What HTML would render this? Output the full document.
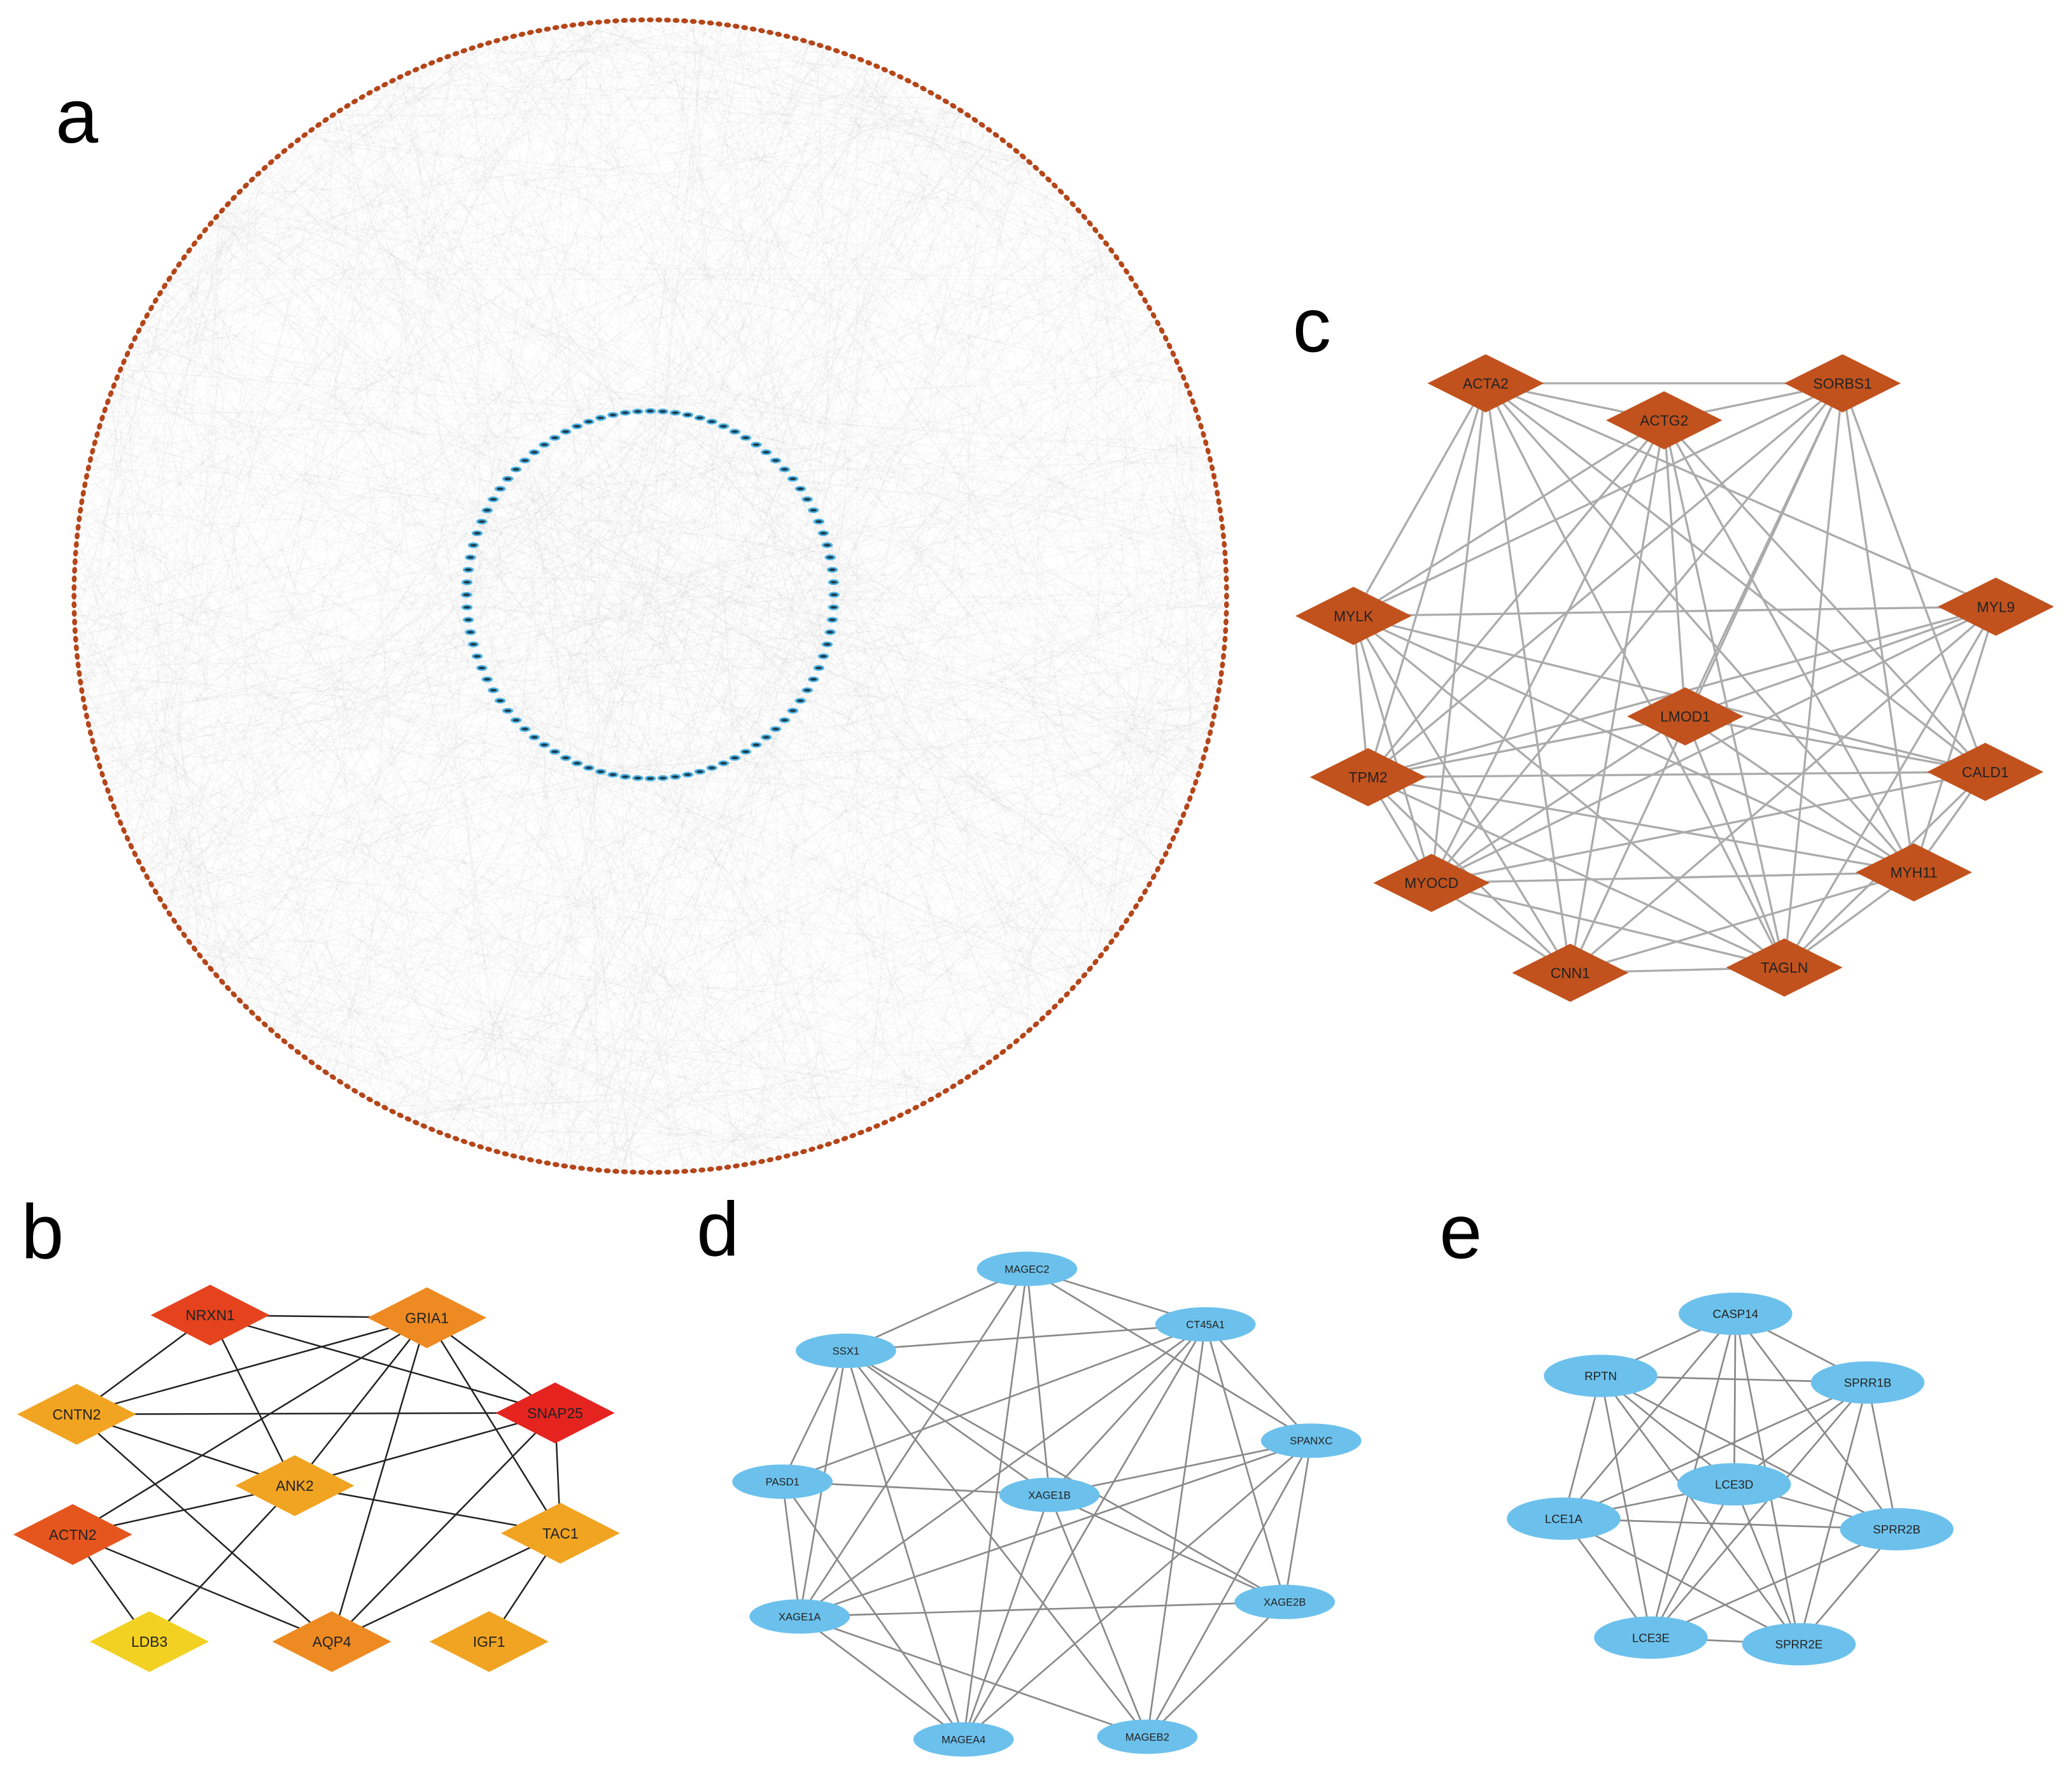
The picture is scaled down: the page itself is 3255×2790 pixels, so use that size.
<!DOCTYPE html>
<html><head><meta charset="utf-8"><style>html,body{margin:0;padding:0;background:#fff}svg{display:block}</style></head>
<body>
<svg id="s" xmlns="http://www.w3.org/2000/svg" width="3255" height="2790" viewBox="0 0 1567.6 1343.7" preserveAspectRatio="none" font-family="Liberation Sans, sans-serif">
<rect width="1568" height="1344" fill="#fff"/>
<g id="aEdges"></g>
<g id="aDots"></g>
<g id="cEdges" stroke="#ababab" stroke-width="1.6"></g>
<g id="bEdges" stroke="#222" stroke-width="1.2"></g>
<g id="dEdges" stroke="#8a8a8a" stroke-width="1.3"></g>
<g id="eEdges" stroke="#8a8a8a" stroke-width="1.3"></g>
<g id="nodes"></g>
<g font-size="58" fill="#000">
<text x="42" y="108">a</text>
<text x="16" y="952">b</text>
<text x="978" y="266">c</text>
<text x="527" y="950">d</text>
<text x="1089" y="952">e</text>
</g>
</svg>
<script>
var NS="http://www.w3.org/2000/svg";
function el(p,t,a,txt){var e=document.createElementNS(NS,t);for(var k in a)e.setAttribute(k,a[k]);if(txt)e.textContent=txt;p.appendChild(e);return e;}
var g=function(id){return document.getElementById(id);};
var seed=7;function rnd(){seed=(seed*16807)%2147483647;return seed/2147483647;}
var cx=492,cy=451,R=436,r=139;
var ae=g("aEdges");
for(var i=0;i<1400;i++){var t1=rnd()*6.283,t2,inner=rnd()<0.3;
 var x1=cx+R*Math.cos(t1),y1=cy+R*Math.sin(t1);var x2,y2;
 if(inner){t2=rnd()*6.283;x2=cx+r*Math.cos(t2);y2=cy+r*Math.sin(t2);}else{t2=t1+(0.6+rnd()*2.6)*(rnd()<.5?1:-1);x2=cx+R*Math.cos(t2);y2=cy+R*Math.sin(t2);}
 el(ae,"line",{x1:x1,y1:y1,x2:x2,y2:y2,stroke:"#999","stroke-opacity":0.07,"stroke-width":0.6});}
var ad=g("aDots");
for(var i=0;i<420;i++){var t=i/420*6.283;el(ad,"ellipse",{cx:cx+R*Math.cos(t),cy:cy+R*Math.sin(t),rx:2.6,ry:1.9,fill:"#B4461A",transform:"rotate("+(t*57.3+90)+" "+(cx+R*Math.cos(t))+" "+(cy+R*Math.sin(t))+")"});}
for(var i=0;i<92;i++){var t=i/92*6.283;var x=cx+r*Math.cos(t),y=cy-1+r*Math.sin(t);el(ad,"ellipse",{cx:x,cy:y,rx:4.2,ry:2.2,fill:"#4FB3E3"});el(ad,"ellipse",{cx:x,cy:y,rx:2.6,ry:1,fill:"#1d3a4a"});}
var nodes=g("nodes");
function diamond(x,y,w,h,fill,label,fs){el(nodes,"polygon",{points:(x-w/2)+","+y+" "+x+","+(y-h/2)+" "+(x+w/2)+","+y+" "+x+","+(y+h/2),fill:fill});el(nodes,"text",{x:x,y:y+fs*0.36,"text-anchor":"middle","font-size":fs,fill:"#222"},label);}
function ell(x,y,rx,ry,label,fs){el(nodes,"ellipse",{cx:x,cy:y,rx:rx,ry:ry,fill:"#6CC1EC"});el(nodes,"text",{x:x,y:y+fs*0.36,"text-anchor":"middle","font-size":fs,fill:"#222"},label);}
function edges(id,N,list){var p=g(id);list.forEach(function(e){var a=N[e[0]],b=N[e[1]];el(p,"line",{x1:a[0],y1:a[1],x2:b[0],y2:b[1]});});}
function all(N){var k=Object.keys(N),L=[];for(var i=0;i<k.length;i++)for(var j=i+1;j<k.length;j++)L.push([k[i],k[j]]);return L;}
var C={ACTA2:[1124,290],SORBS1:[1394,290],ACTG2:[1259,318],MYLK:[1024,466],MYL9:[1510,459],LMOD1:[1275,542],TPM2:[1035,588],CALD1:[1502,584],MYOCD:[1083,668],MYH11:[1448,660],CNN1:[1188,736],TAGLN:[1350,732]};
var cl=all(C).filter(function(e,i){return i%9!=4;});
edges("cEdges",C,cl);
for(var k in C)diamond(C[k][0],C[k][1],88,44,"#C1521E",k,11);
var B={NRXN1:[159,995,"#E5421E"],GRIA1:[323,997,"#EE8A22"],CNTN2:[58,1070,"#F0A422"],SNAP25:[420,1069,"#E52420"],ANK2:[223,1124,"#F0A422"],ACTN2:[55,1161,"#E5561E"],TAC1:[424,1160,"#F0A422"],LDB3:[113,1242,"#F2D123"],AQP4:[251,1242,"#EE8A22"],IGF1:[370,1242,"#F0A422"]};
edges("bEdges",B,[["NRXN1","GRIA1"],["NRXN1","CNTN2"],["NRXN1","ANK2"],["NRXN1","SNAP25"],["GRIA1","CNTN2"],["GRIA1","ACTN2"],["GRIA1","ANK2"],["GRIA1","AQP4"],["GRIA1","TAC1"],["GRIA1","SNAP25"],["CNTN2","SNAP25"],["CNTN2","ANK2"],["CNTN2","AQP4"],["SNAP25","ANK2"],["SNAP25","AQP4"],["SNAP25","TAC1"],["ANK2","ACTN2"],["ANK2","TAC1"],["ANK2","LDB3"],["ACTN2","LDB3"],["ACTN2","AQP4"],["TAC1","AQP4"],["TAC1","IGF1"]]);
for(var k in B)diamond(B[k][0],B[k][1],90,46,B[k][2],k,11);
var D={MAGEC2:[777,960],CT45A1:[912,1002],SSX1:[640,1022],SPANXC:[992,1090],PASD1:[592,1121],XAGE1B:[794,1131],XAGE1A:[605,1223],XAGE2B:[972,1212],MAGEA4:[729,1316],MAGEB2:[868,1314]};
edges("dEdges",D,[["MAGEC2","SSX1"],["MAGEC2","CT45A1"],["MAGEC2","XAGE1B"],["MAGEC2","XAGE1A"],["MAGEC2","MAGEA4"],["MAGEC2","SPANXC"],["SSX1","CT45A1"],["SSX1","PASD1"],["SSX1","XAGE1B"],["SSX1","XAGE1A"],["SSX1","MAGEA4"],["SSX1","MAGEB2"],["SSX1","XAGE2B"],["CT45A1","PASD1"],["CT45A1","XAGE1A"],["CT45A1","MAGEA4"],["CT45A1","MAGEB2"],["CT45A1","SPANXC"],["CT45A1","XAGE2B"],["CT45A1","XAGE1B"],["SPANXC","XAGE1A"],["SPANXC","MAGEA4"],["SPANXC","MAGEB2"],["SPANXC","XAGE2B"],["SPANXC","XAGE1B"],["PASD1","XAGE1B"],["PASD1","XAGE1A"],["PASD1","MAGEA4"],["XAGE1B","XAGE2B"],["XAGE1B","MAGEA4"],["XAGE1B","MAGEB2"],["XAGE1A","XAGE2B"],["XAGE1A","MAGEA4"],["XAGE1A","MAGEB2"],["XAGE2B","MAGEB2"]]);
for(var k in D)ell(D[k][0],D[k][1],38,13,k,8);
var E={CASP14:[1313,994],RPTN:[1211,1041],SPRR1B:[1413,1046],LCE3D:[1312,1123],LCE1A:[1183,1149],SPRR2B:[1435,1157],LCE3E:[1249,1239],SPRR2E:[1361,1244]};
edges("eEdges",E,all(E));
for(var k in E)ell(E[k][0],E[k][1],43,16,k,9);
</script>
</body></html>
